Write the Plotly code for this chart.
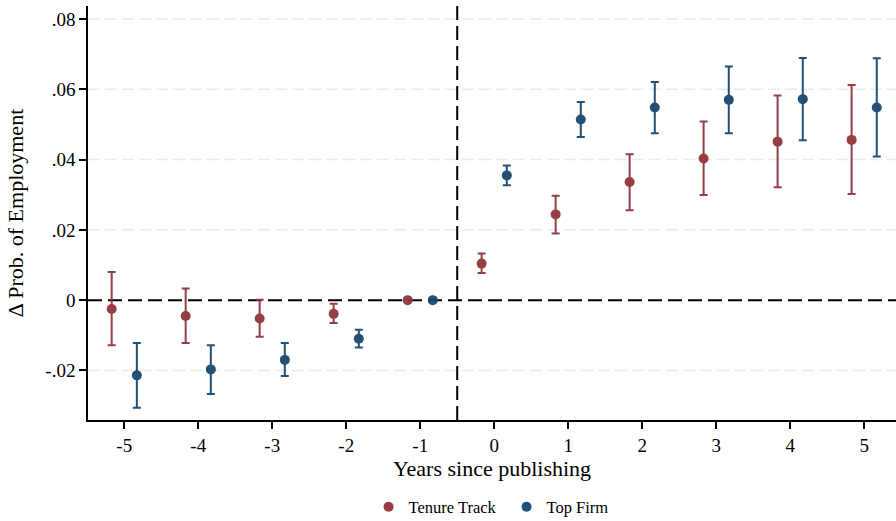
import plotly.graph_objects as go

years = [-5, -4, -3, -2, -1, 0, 1, 2, 3, 4, 5]

tt_est = [-0.0025, -0.0045, -0.0052, -0.0039, 0.0, 0.0104, 0.0244, 0.0336, 0.0403, 0.0451, 0.0456]
tt_lo = [-0.0128, -0.0122, -0.0104, -0.0065, 0.0, 0.0077, 0.0190, 0.0256, 0.0299, 0.0321, 0.0302]
tt_hi = [0.0080, 0.0033, 0.0001, -0.0010, 0.0, 0.0133, 0.0297, 0.0415, 0.0508, 0.0582, 0.0612]

tf_est = [-0.0214, -0.0197, -0.0170, -0.0110, 0.0, 0.0355, 0.0514, 0.0548, 0.0570, 0.0572, 0.0548]
tf_lo = [-0.0306, -0.0267, -0.0216, -0.0135, 0.0, 0.0327, 0.0464, 0.0475, 0.0475, 0.0455, 0.0409]
tf_hi = [-0.0122, -0.0128, -0.0122, -0.0084, 0.0, 0.0383, 0.0564, 0.0621, 0.0665, 0.0689, 0.0688]

ytick_vals = [-0.02, 0, 0.02, 0.04, 0.06, 0.08]
ytick_text = ["-.02", "0", ".02", ".04", ".06", ".08"]

offset = 0.17
red = "#90353b"
blue = "#1a476f"
font_family = "Liberation Serif"

fig = go.Figure()

def add_series(est, lo, hi, shift, color, name):
    xs = [y + shift for y in years]
    fig.add_trace(go.Scatter(
        x=xs, y=est, mode="markers", name=name,
        marker=dict(color=color, size=10, line=dict(width=0)),
        error_y=dict(type="data", symmetric=False,
                     array=[h - e for h, e in zip(hi, est)],
                     arrayminus=[e - l for e, l in zip(est, lo)],
                     color=color, thickness=2, width=4),
        opacity=0.95,
    ))

add_series(tt_est, tt_lo, tt_hi, -offset, red, "Tenure Track")
add_series(tf_est, tf_lo, tf_hi, offset, blue, "Top Firm")

# light dashed grid lines (not at zero)
for v in ytick_vals:
    if v != 0:
        fig.add_shape(type="line", xref="paper", yref="y", x0=0, x1=1, y0=v, y1=v,
                      line=dict(color="#ebebeb", width=1.5, dash="12px,5px"), layer="below")
# reference lines
fig.add_shape(type="line", xref="paper", yref="y", x0=0, x1=1, y0=0, y1=0,
              line=dict(color="black", width=2, dash="14px,6px"), layer="below")
fig.add_shape(type="line", xref="x", yref="paper", x0=-0.5, x1=-0.5, y0=0, y1=1,
              line=dict(color="black", width=2, dash="14px,6px"), layer="below")

fig.update_layout(
    width=896, height=521,
    margin=dict(l=88, r=0, t=6, b=101, autoexpand=False),
    paper_bgcolor="white", plot_bgcolor="white",
    font=dict(family=font_family, size=18, color="black"),
    showlegend=True,
    legend=dict(orientation="h", x=0.518, xanchor="center", y=-0.21, yanchor="middle",
                font=dict(family=font_family, size=16.5, color="black"),
                itemwidth=30, entrywidth=93, entrywidthmode="pixels"),
)
fig.update_xaxes(
    range=[-5.49, 5.43], tickvals=years, ticktext=[str(v) for v in years],
    showline=True, linecolor="black", linewidth=1.5,
    ticks="outside", ticklen=7, tickcolor="black", tickwidth=1.5,
    tickfont=dict(family=font_family, size=19, color="black"),
    showgrid=False, zeroline=False, automargin=False,
    title=dict(text="Years since publishing", standoff=5),
)
fig.update_yaxes(
    range=[-0.0341, 0.0837], tickvals=ytick_vals, ticktext=ytick_text,
    showline=True, linecolor="black", linewidth=1.5,
    ticks="outside", ticklen=7, tickcolor="black", tickwidth=1.5,
    tickfont=dict(family=font_family, size=19, color="black"),
    showgrid=False, zeroline=False, automargin=False,
    title=dict(text="Δ Prob. of Employment", standoff=16),
)

fig.write_html("out.html", config={"displayModeBar": False},
               post_script="document.body.style.margin='0';")
